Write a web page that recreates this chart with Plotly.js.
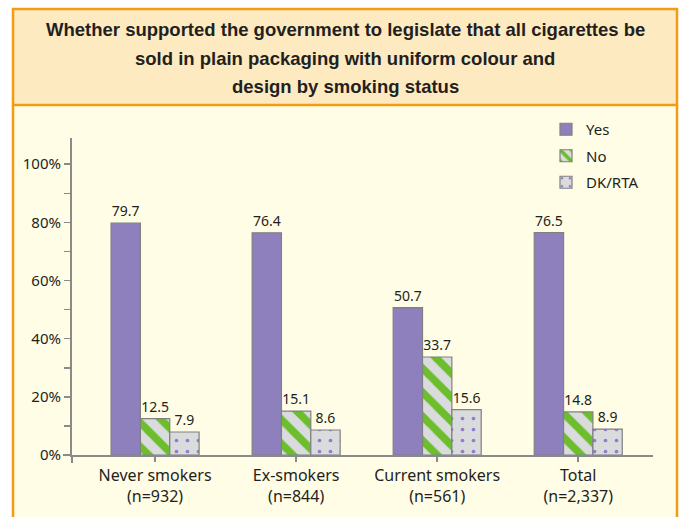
<!DOCTYPE html>
<html><head><meta charset="utf-8">
<script src="https://cdn.plot.ly/plotly-3.0.1.min.js"></script>
<style>html,body{margin:0;padding:0;background:#fff}#chart{width:683px;height:517px}</style>
</head><body><div id="chart"></div>
<script>
const categories = ['Never smokers<br>(n=932)', 'Ex-smokers<br>(n=844)', 'Current smokers<br>(n=561)', 'Total<br>(n=2,337)'];
const yesValues = [79.7, 76.4, 50.7, 76.5];
const noValues = [12.5, 15.1, 33.7, 14.8];
const dkValues = [7.9, 8.6, 15.6, 8.9];
const seriesNames = ['Yes', 'No', 'DK/RTA'];
const yTickValues = [0, 20, 40, 60, 80, 100];
const yTickLabels = ['0%', '20%', '40%', '60%', '80%', '100%'];
const titleLines = [
  'Whether supported the government to legislate that all cigarettes be',
  'sold in plain packaging with uniform colour and',
  'design by smoking status'
];

const W = 683, H = 517, L = 72, R = 30, T = 138, B = 62;
const pw = W - L - R, ph = H - T - B;
const px = x => (x - L) / pw;
const py = y => (H - B - y) / ph;

const FONT = 'Noto Sans, Open Sans, sans-serif';
const outline = {color: 'rgb(128,128,128)', width: 1.2};
const textFont = {family: FONT, size: 14, color: '#231f20'};

const traces = [
  {type: 'bar', name: seriesNames[0], x: categories, y: yesValues, legendgroup: 'a',
   text: yesValues.map(String), textposition: 'outside', textfont: textFont, cliponaxis: false,
   marker: {color: 'rgb(142,128,189)', line: outline}, hoverinfo: 'y'},
  {type: 'bar', name: seriesNames[1], x: categories, y: noValues, legendgroup: 'b',
   text: noValues.map(String), textposition: 'outside', textfont: textFont, cliponaxis: false,
   marker: {color: 'rgb(218,219,221)', line: outline,
     pattern: {shape: '\\', fgcolor: 'rgb(108,190,45)', bgcolor: 'rgb(218,219,221)', size: 17, solidity: 0.45, fillmode: 'replace'}},
   hoverinfo: 'y'},
  {type: 'bar', name: seriesNames[2], x: categories, y: dkValues, legendgroup: 'c',
   text: dkValues.map(String), textposition: 'outside', textfont: textFont, cliponaxis: false,
   marker: {color: 'rgb(218,219,221)', line: outline,
     pattern: {shape: '.', fgcolor: 'rgb(145,125,205)', bgcolor: 'rgb(218,219,221)', size: 11, solidity: 0.09, fillmode: 'replace'}},
   hoverinfo: 'y'}
];

const orange = 'rgb(243,156,18)';
const axisColor = 'rgb(138,138,138)';
const shapes = [
  {type: 'rect', xref: 'paper', yref: 'paper', x0: px(13), x1: px(677), y0: py(520), y1: py(9),
   fillcolor: 'rgb(255,253,230)', line: {width: 0}, layer: 'below'},
  {type: 'rect', xref: 'paper', yref: 'paper', x0: px(13), x1: px(677), y0: py(105), y1: py(9),
   fillcolor: 'rgb(253,234,192)', line: {color: orange, width: 2.5}, layer: 'below'},
  {type: 'line', xref: 'paper', yref: 'paper', x0: px(13), x1: px(13), y0: py(105), y1: py(520),
   line: {color: orange, width: 2.5}, layer: 'below'},
  {type: 'line', xref: 'paper', yref: 'paper', x0: px(677), x1: px(677), y0: py(105), y1: py(520),
   line: {color: orange, width: 2.5}, layer: 'below'},
  {type: 'line', xref: 'paper', yref: 'paper', x0: px(63), x1: px(72), y0: 0, y1: 0,
   line: {color: axisColor, width: 2}},
  {type: 'line', xref: 'paper', yref: 'paper', x0: 0, x1: 0, y0: py(463), y1: 0,
   line: {color: axisColor, width: 2}}
];

const annotations = titleLines.map((t, i) => ({
  text: t, xref: 'paper', yref: 'paper', x: px(345), y: py([30, 58, 87][i]),
  xanchor: 'center', yanchor: 'middle', showarrow: false,
  font: {family: 'Liberation Sans, Arial, sans-serif', size: 18.5, weight: 700, color: '#231f20'}
}));

const layout = {
  width: W, height: H,
  margin: {l: L, r: R, t: T, b: B, pad: 0},
  paper_bgcolor: '#ffffff', plot_bgcolor: 'rgba(0,0,0,0)',
  barmode: 'group', bargap: 0.376, bargroupgap: 0,
  showlegend: true,
  legend: {x: px(546), y: py(113), xanchor: 'left', yanchor: 'top', bgcolor: 'rgba(0,0,0,0)',
    font: {family: FONT, size: 15, color: '#231f20'}, tracegroupgap: 4, traceorder: 'grouped'},
  xaxis: {range: [-0.589, 3.53], showline: true, linecolor: axisColor, linewidth: 2,
    ticks: 'outside', ticklen: 5, tickcolor: axisColor, tickwidth: 1.5, showgrid: false,
    tickfont: {family: FONT, size: 16, color: '#231f20'}, fixedrange: true},
  yaxis: {range: [0, 109], showline: true, linecolor: axisColor, linewidth: 2,
    tickmode: 'array', tickvals: yTickValues, ticktext: yTickLabels,
    ticks: 'outside', ticklen: 6, tickcolor: axisColor, tickwidth: 1.5,
    minor: {dtick: 10, ticks: 'outside', ticklen: 6, tickcolor: axisColor, tickwidth: 1.5, showgrid: false},
    showgrid: false, zeroline: false,
    tickfont: {family: FONT, size: 15, color: '#231f20'}, fixedrange: true},
  shapes: shapes,
  annotations: annotations
};

Plotly.newPlot('chart', traces, layout, {displayModeBar: false, staticPlot: true});
</script>
</body></html>
